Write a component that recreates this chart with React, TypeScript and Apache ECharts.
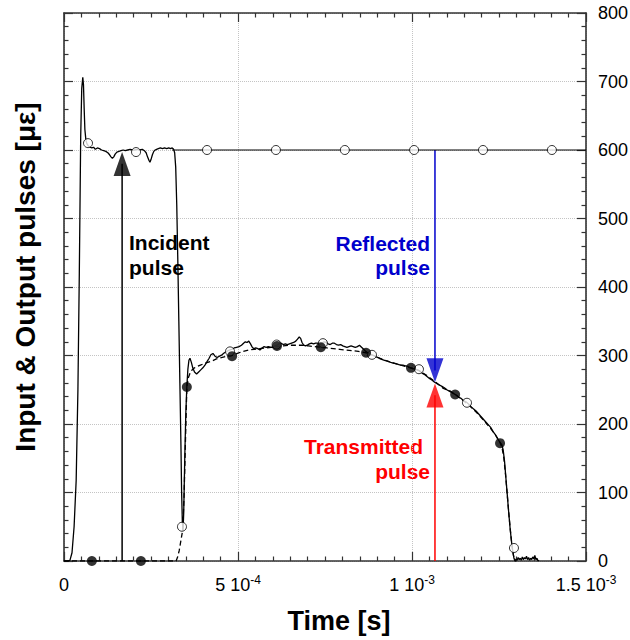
import React, { useEffect, useRef } from 'react';
import * as echarts from 'echarts';

const FONT = "'Liberation Sans', Arial, Helvetica, sans-serif";
const US = 1e-6; // data times are in microseconds

// Input (incident + reflected) strain signal, [time µs, strain µε]
const inputPulse: [number, number][] = [
  [0, 0], [10, 0], [17, 1], [23, 12], [29, 50], [35, 118], [40, 250], [44, 420], [48, 620], [51, 690], [54, 706],
  [56, 695], [58, 660], [60, 630], [63, 614], [66, 609], [70, 606], [75, 604], [80, 603], [85, 604], [90, 601],
  [96, 603], [102, 602], [108, 600], [114, 599], [120, 598], [126, 596], [131, 593], [135, 590], [139, 588],
  [143, 590], [147, 594], [152, 597], [158, 598], [164, 599], [170, 600], [176, 599], [183, 600], [190, 601],
  [197, 600], [204, 600], [211, 601], [218, 600], [225, 601], [231, 599], [236, 596], [240, 590], [244, 585],
  [247, 582], [250, 586], [254, 593], [258, 598], [262, 600], [266, 601], [271, 602], [277, 603], [283, 602],
  [289, 603], [295, 602], [301, 603], [306, 602], [311, 603], [315, 601], [318, 596], [321, 575], [324, 520],
  [327, 440], [330, 350], [333, 260], [336, 170], [338, 100], [340, 58], [342, 44], [344, 70], [347, 150],
  [350, 215], [353, 255], [356, 280], [359, 293], [362, 296], [366, 290], [370, 282], [375, 276], [381, 273],
  [387, 276], [393, 279], [399, 282], [405, 286], [411, 291], [417, 296], [422, 301], [428, 303], [434, 299],
  [440, 297], [447, 299], [454, 301], [461, 304], [468, 306], [475, 308], [482, 309], [489, 311], [496, 312],
  [503, 313], [510, 315], [516, 318], [521, 320], [526, 319], [531, 321], [536, 317], [541, 312], [546, 310],
  [551, 311], [557, 310], [563, 308], [569, 311], [575, 313], [581, 312], [587, 313], [594, 312], [600, 312],
  [606, 314], [612, 315], [618, 317], [624, 318], [630, 316], [636, 317], [642, 316], [648, 317], [654, 318],
  [660, 319], [666, 321], [671, 324], [676, 327], [680, 325], [684, 319], [689, 315], [694, 314], [699, 315],
  [705, 317], [711, 318], [717, 317], [723, 318], [729, 318], [735, 316], [741, 318], [747, 320], [753, 319],
  [759, 317], [765, 316], [771, 318], [777, 318], [783, 316], [789, 315], [795, 316], [801, 314], [807, 313],
  [813, 312], [819, 313], [825, 314], [831, 313], [837, 312], [843, 313], [849, 315], [855, 312], [861, 309],
  [867, 306], [873, 304], [879, 302], [885, 301], [891, 300], [897, 298], [903, 297], [909, 295], [915, 294],
  [921, 293], [927, 292], [933, 291], [939, 290], [946, 289], [953, 288], [960, 287], [967, 286], [974, 286],
  [981, 285], [988, 284], [995, 282], [1002, 281], [1009, 280], [1016, 279], [1023, 277], [1030, 274],
  [1037, 272], [1044, 269], [1051, 266], [1058, 264], [1065, 261], [1072, 259], [1079, 257], [1086, 255],
  [1093, 253], [1100, 250], [1107, 248], [1114, 246], [1121, 244], [1128, 242], [1135, 239], [1142, 237],
  [1149, 234], [1156, 232], [1163, 229], [1170, 225], [1177, 222], [1184, 219], [1191, 215], [1198, 211],
  [1205, 207], [1212, 203], [1219, 199], [1226, 195], [1233, 189], [1240, 184], [1247, 178], [1253, 173],
  [1258, 170], [1262, 162], [1266, 145], [1270, 120], [1274, 95], [1278, 70], [1282, 47], [1286, 28],
  [1290, 13], [1293, 4], [1296, 0], [1299, 3], [1302, 1], [1305, 5], [1308, 2], [1311, 4], [1314, 1],
  [1317, 6], [1320, 2], [1323, 5], [1326, 3], [1329, 7], [1332, 2], [1335, 5], [1338, 1], [1341, 4],
  [1344, 2], [1347, 6], [1350, 3], [1353, 8], [1356, 2], [1359, 4], [1362, 0], [1365, 1],
];

// Output (transmitted) strain signal, dashed
const outputPulse: [number, number][] = [
  [0, 0], [322, 0], [326, 5], [331, 15], [336, 30], [341, 45], [345, 95], [349, 175], [353, 254], [357, 267],
  [362, 274], [368, 279], [375, 282], [383, 284], [392, 286], [402, 288], [413, 290], [425, 292], [438, 295],
  [452, 297], [467, 299], [483, 300], [498, 303], [514, 306], [530, 308], [546, 309], [562, 310], [578, 311],
  [595, 312], [612, 313], [630, 314], [648, 315], [666, 315], [684, 315], [702, 314], [720, 313], [738, 312],
  [756, 311], [774, 310], [792, 309], [810, 308], [828, 307], [846, 306], [868, 304], [888, 300], [908, 296],
  [928, 292], [948, 289], [968, 286], [997, 282], [1020, 278], [1045, 270], [1066, 262], [1090, 252],
  [1110, 248], [1124, 243], [1145, 235], [1165, 227], [1185, 217], [1205, 206], [1225, 194], [1240, 184],
  [1253, 173], [1259, 165], [1264, 150], [1269, 125], [1274, 95], [1279, 65], [1284, 38], [1289, 16],
  [1293, 4], [1297, 0], [1300, 0],
];

// Ideal incident level continuing after the pulse
const incidentLevel: [number, number][] = [[311, 600], [1500, 600]];

// Open circle markers (input model)
const openMarkers: [number, number][] = [
  [69, 610], [207, 597], [411, 600], [609, 600], [807, 600], [1006, 600], [1204, 600], [1402, 600],
  [339, 50], [477, 306], [611, 316], [744, 318], [885, 301], [1020, 280], [1158, 231], [1293, 19],
];

// Filled circle markers (output model)
const filledMarkers: [number, number][] = [
  [80, 0], [221, 0], [353, 254], [483, 299], [612, 314], [738, 312], [868, 304], [997, 282], [1124, 243], [1253, 172],
];

// Annotation arrows: time (µs), start value, tip value
const arrowNames = ['Incident', 'Reflected', 'Transmitted'];
const arrowColors = ['#000000', '#0000CC', '#FF0000'];
const arrowTime = [167, 1066, 1066];
const arrowFrom = [0, 600, 0];
const arrowTip = [597, 261, 259];
const arrowShaftEnd = [580, 278, 242];

// Tick labels
const xTickMantissa = ['0', '5 10', '1 10', '1.5 10'];
const xTickExponent = ['', '-4', '-3', '-3'];
const X_STEP = 5e-4;

const toXY = (d: [number, number][]) => d.map(([t, v]) => [t * US, v]);

const axisColor = '#333333';
const gridLine = { show: true, lineStyle: { color: '#c4c4c4', type: 'dotted' as const, width: 1 } };

export default function App() {
  const ref = useRef<HTMLDivElement>(null);

  useEffect(() => {
    if (!ref.current) return;
    const chart = echarts.init(ref.current, undefined, { renderer: 'svg' });

    const commonX = {
      type: 'value' as const,
      min: 0,
      max: 1.5e-3,
      interval: X_STEP,
      axisLine: { show: true, onZero: false, lineStyle: { color: axisColor, width: 1.6 } },
      axisTick: { show: true, inside: true, length: 9, lineStyle: { color: axisColor, width: 1.2 } },
      minorTick: { show: true, splitNumber: 10, length: 4.5, lineStyle: { color: axisColor, width: 1.2 } },
    };
    const commonY = {
      type: 'value' as const,
      min: 0,
      max: 800,
      interval: 100,
      axisLine: { show: true, onZero: false, lineStyle: { color: axisColor, width: 1.6 } },
      axisTick: { show: true, inside: true, length: 9, lineStyle: { color: axisColor, width: 1.2 } },
      minorTick: { show: true, splitNumber: 5, length: 4.5, lineStyle: { color: axisColor, width: 1.2 } },
    };

    const arrowShafts = arrowNames.map((n, i) => ({
      name: n + ' arrow',
      type: 'line' as const,
      data: toXY([[arrowTime[i], arrowFrom[i]], [arrowTime[i], arrowShaftEnd[i]]]),
      symbol: 'none',
      lineStyle: { color: arrowColors[i], width: 1.5 },
      z: 3,
      silent: true,
    }));
    const arrowHeads = arrowNames.map((n, i) => {
      const up = arrowTip[i] > arrowFrom[i];
      return {
        name: n + ' head',
        type: 'scatter' as const,
        data: toXY([[arrowTime[i], arrowTip[i]]]),
        symbol: 'triangle',
        symbolSize: [17, 24],
        symbolRotate: up ? 0 : 180,
        symbolOffset: [0, up ? 12 : -12],
        itemStyle: { color: arrowColors[i] },
        z: 6,
        silent: true,
      };
    });

    const ann = (text: string, x: number, y: number, align: string, fill: string) => ({
      type: 'text', x, y,
      style: { text, align, verticalAlign: 'middle', fontSize: 21, fontWeight: 'bold', fontFamily: FONT, fill },
    });

    chart.setOption({
      animation: false,
      backgroundColor: '#ffffff',
      grid: { left: 64, right: 44, top: 13, bottom: 79, containLabel: false, outerBoundsMode: 'none' },
      xAxis: [
        {
          ...commonX,
          position: 'bottom',
          splitLine: gridLine,
          axisLabel: {
            show: true,
            margin: 13,
            formatter: (v: number) => {
              const i = Math.round(v / X_STEP);
              const m = xTickMantissa[i];
              const e = xTickExponent[i];
              return e ? `{m|${m}}{e|${e}}` : `{m|${m}}`;
            },
            rich: {
              m: { fontSize: 18, fontFamily: FONT, color: '#000', lineHeight: 22 },
              e: { fontSize: 12, fontFamily: FONT, color: '#000', lineHeight: 10, verticalAlign: 'top' },
            },
          },
        },
        {
          ...commonX,
          position: 'top',
          splitLine: { show: false },
          axisLabel: { show: false },
        },
      ],
      yAxis: [
        {
          ...commonY,
          position: 'left',
          splitLine: gridLine,
          axisLabel: { show: false },
        },
        {
          ...commonY,
          position: 'right',
          splitLine: { show: false },
          axisLabel: { show: true, margin: 12, fontSize: 18, fontFamily: FONT, color: '#000' },
        },
      ],
      graphic: [
        {
          type: 'text', x: 25, y: 277, rotation: Math.PI / 2,
          style: { text: 'Input & Output pulses [\u03bc\u03b5]', align: 'center', verticalAlign: 'middle', fontSize: 28, fontWeight: 'bold', fontFamily: FONT, fill: '#000' },
        },
        {
          type: 'text', x: 339, y: 621,
          style: { text: 'Time [s]', align: 'center', verticalAlign: 'middle', fontSize: 27, fontWeight: 'bold', fontFamily: FONT, fill: '#000' },
        },
        ann('Incident', 129, 242, 'left', '#000'),
        ann('pulse', 129, 267, 'left', '#000'),
        ann('Reflected', 430, 243, 'right', '#0000CC'),
        ann('pulse', 430, 267, 'right', '#0000CC'),
        ann('Transmitted', 423, 446, 'right', '#FF0000'),
        ann('pulse', 430, 471, 'right', '#FF0000'),
      ],
      series: [
        ...arrowShafts,
        {
          name: 'Incident level',
          type: 'line',
          data: toXY(incidentLevel),
          symbol: 'none',
          lineStyle: { color: '#000', width: 1 },
          z: 3,
        },
        {
          name: 'Output',
          type: 'line',
          data: toXY(outputPulse),
          symbol: 'none',
          lineStyle: { color: '#000', width: 1.3, type: [5, 3] },
          z: 4,
        },
        {
          name: 'Input',
          type: 'line',
          data: toXY(inputPulse),
          symbol: 'none',
          lineStyle: { color: '#000', width: 1.3 },
          z: 4,
        },
        ...arrowHeads,
        {
          name: 'Input model',
          type: 'scatter',
          data: toXY(openMarkers),
          symbol: 'circle',
          symbolSize: 9,
          itemStyle: { color: '#fff', borderColor: '#000', borderWidth: 1 },
          z: 7,
        },
        {
          name: 'Output model',
          type: 'scatter',
          data: toXY(filledMarkers),
          symbol: 'circle',
          symbolSize: 10,
          itemStyle: { color: '#000' },
          z: 8,
          clip: false,
        },
      ],
    });

    return () => chart.dispose();
  }, []);

  return <div ref={ref} style={{ position: 'absolute', left: 0, top: 0, width: 630, height: 640 }} />;
}
